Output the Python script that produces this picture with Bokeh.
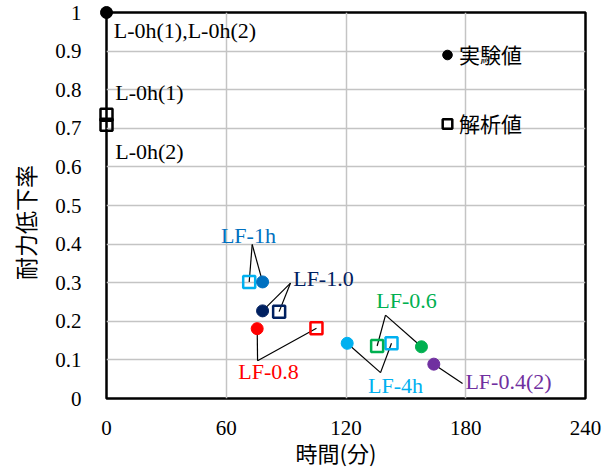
import math
from bokeh.plotting import figure
from bokeh.models import Range1d, FixedTicker, Legend, LegendItem, ColumnDataSource
from bokeh.core.properties import value
from bokeh.embed import file_html
from bokeh.resources import INLINE

# ---- data ----
exp_names = ["L-0h", "LF-1h", "LF-1.0", "LF-0.8", "LF-4h", "LF-0.6", "LF-0.4(2)"]
exp_time = [0, 78.2, 78.2, 75.5, 120.6, 157.8, 164.0]
exp_ratio = [1.0, 0.302, 0.227, 0.181, 0.143, 0.134, 0.089]

ana_names = ["L-0h(1)", "L-0h(2)", "LF-1h", "LF-1.0", "LF-0.8", "LF-4h", "LF-0.6"]
ana_time = [0, 0, 71.5, 86.5, 105.2, 142.8, 135.6]
ana_ratio = [0.735, 0.709, 0.302, 0.225, 0.182, 0.143, 0.136]

x_ticks = [0, 60, 120, 180, 240]
y_ticks = [0, 0.1, 0.2, 0.3, 0.4, 0.5, 0.6, 0.7, 0.8, 0.9, 1.0]
y_tick_labels = ["0", "0.1", "0.2", "0.3", "0.4", "0.5", "0.6", "0.7", "0.8", "0.9", "1"]

x_title = "時間(分)"
y_title = "耐力低下率"

# ---- styles ----
exp_colors = {"L-0h": "#000000", "LF-1h": "#0070C0", "LF-1.0": "#002060", "LF-0.8": "#FF0000",
              "LF-4h": "#00B0F0", "LF-0.6": "#00B050", "LF-0.4(2)": "#7030A0"}
ana_colors = {"L-0h(1)": "#000000", "L-0h(2)": "#000000", "LF-1h": "#00B0F0", "LF-1.0": "#002060",
              "LF-0.8": "#FF0000", "LF-4h": "#00B0F0", "LF-0.6": "#00B050"}

# label text, anchor (data coords), colour
labels = [
    ("L-0h(1),L-0h(2)", 39.3, 0.954, "#000000"),
    ("L-0h(1)", 21.5, 0.794, "#000000"),
    ("L-0h(2)", 21.5, 0.639, "#000000"),
    ("LF-1h", 71.1, 0.423, "#0070C0"),
    ("LF-1.0", 108.7, 0.312, "#002060"),
    ("LF-0.6", 150.3, 0.253, "#00B050"),
    ("LF-0.8", 81.2, 0.070, "#FF0000"),
    ("LF-4h", 144.8, 0.034, "#00B0F0"),
    ("LF-0.4(2)", 201.4, 0.044, "#7030A0"),
]
# leader-line apex per group (data coords)
leaders = {
    "LF-1h": (73.0, 0.399),
    "LF-1.0": (92.2, 0.299),
    "LF-0.8": (75.7, 0.098),
    "LF-4h": (137.3, 0.067),
    "LF-0.6": (139.8, 0.216),
    "LF-0.4(2)": (178.4, 0.039),
}

SERIF = "Liberation Serif"
CJK = "Noto Sans CJK JP"

x0, x1 = x_ticks[0], x_ticks[-1]
y0, y1 = y_ticks[0], y_ticks[-1]

p = figure(width=611, height=470, x_range=Range1d(x0, x1), y_range=Range1d(y0, y1),
           output_backend="svg", toolbar_location=None,
           min_border_left=106, min_border_right=26, min_border_top=12, min_border_bottom=72)
p.background_fill_color = "white"
p.border_fill_color = "white"
p.outline_line_color = "black"
p.outline_line_width = 2.5

for ax in (p.xaxis[0], p.yaxis[0]):
    ax.axis_line_color = None
    ax.major_tick_line_color = None
    ax.minor_tick_line_color = None
    ax.major_label_text_font = SERIF
    ax.major_label_text_font_size = "21px"
    ax.major_label_text_color = "black"

p.xaxis.ticker = FixedTicker(ticks=x_ticks)
p.yaxis.ticker = FixedTicker(ticks=y_ticks)
p.yaxis.major_label_overrides = {t: l for t, l in zip(y_ticks, y_tick_labels)}
p.yaxis.major_label_standoff = 19
p.xaxis.major_label_standoff = 16

p.xgrid.ticker = FixedTicker(ticks=x_ticks)
p.ygrid.ticker = FixedTicker(ticks=y_ticks)
for g in (p.xgrid[0], p.ygrid[0]):
    g.grid_line_color = "#C4C4C4"
    g.grid_line_width = 1.5

# axis titles, anchored to the axis ranges and offset in pixels (unclipped overlay text)
p.text(x=[(x0 + x1) / 2], y=[y0], text=[x_title], x_offset=-10, y_offset=53,
       text_font=value(CJK), text_font_size="22px", text_color="black",
       text_align="center", text_baseline="middle", level="overlay")
p.text(x=[x0], y=[(y0 + y1) / 2], text=[y_title], x_offset=-82, y_offset=17, angle=math.pi / 2,
       text_font=value(CJK), text_font_size="23px", text_color="black",
       text_align="center", text_baseline="middle", level="overlay")

# leader lines
xs, ys = [], []
for name, (ax_, ay_) in leaders.items():
    if name in exp_names:
        i = exp_names.index(name)
        xs.append([ax_, exp_time[i]]); ys.append([ay_, exp_ratio[i]])
    if name in ana_names:
        j = ana_names.index(name)
        xs.append([ax_, ana_time[j]]); ys.append([ay_, ana_ratio[j]])
p.multi_line(xs, ys, line_color="black", line_width=1.2)

exp_src = ColumnDataSource(dict(x=exp_time, y=exp_ratio, c=[exp_colors[n] for n in exp_names]))
ana_src = ColumnDataSource(dict(x=ana_time, y=ana_ratio, c=[ana_colors[n] for n in ana_names]))

ana_r = p.scatter("x", "y", source=ana_src, marker="square", size=12, fill_alpha=0,
                  line_color="c", line_width=2.5, level="overlay")
exp_r = p.scatter("x", "y", source=exp_src, marker="circle", size=12, fill_color="c",
                  line_color="c", line_width=1, level="overlay")

lab_src = ColumnDataSource(dict(x=[l[1] for l in labels], y=[l[2] for l in labels],
                                t=[l[0] for l in labels], c=[l[3] for l in labels]))
p.text("x", "y", text="t", source=lab_src, text_color="c", text_font=value(SERIF),
       text_font_size="22px", text_align="center", text_baseline="middle", level="overlay")

legend = Legend(items=[LegendItem(label="実験値", renderers=[exp_r], index=0),
                       LegendItem(label="解析値", renderers=[ana_r], index=0)],
                location=(329, 260), orientation="vertical")
legend.background_fill_alpha = 0
legend.border_line_alpha = 0
legend.padding = 0
legend.margin = 0
legend.spacing = 39
legend.glyph_width = 24
legend.glyph_height = 29
legend.label_height = 29
legend.label_standoff = 0
legend.label_text_font = CJK
legend.label_text_font_size = "21px"
legend.label_text_color = "black"
p.add_layout(legend, "center")

open("out.html", "w").write(file_html(p, INLINE))
